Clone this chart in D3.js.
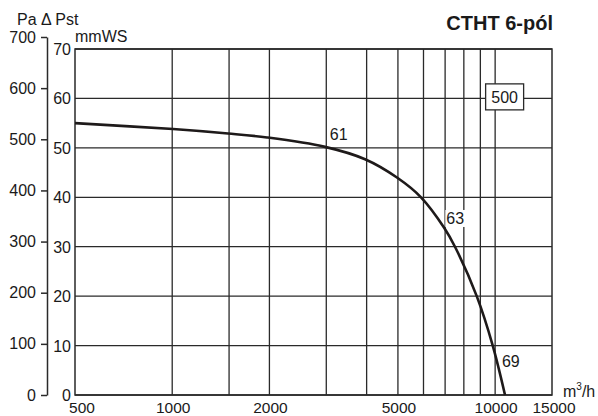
<!DOCTYPE html>
<html><head><meta charset="utf-8">
<script src="https://cdn.jsdelivr.net/npm/d3@7"></script>
<style>
body{margin:0;background:#fff;}
text{font-family:"Liberation Sans",Arial,Helvetica,sans-serif;fill:#1a1a1a;}
</style></head>
<body><svg id="c" width="598" height="416"></svg>
<script>
// Data
const flow = [500, 1006, 1489, 1966, 2973, 3955, 4966, 5895, 6960, 7510, 8770, 9830, 10730];
const pressure = [55.0, 53.8, 52.9, 52.1, 50.2, 47.7, 44.0, 40.0, 33.8, 30.0, 20.0, 10.0, 0];
const xGrid = [1000, 1500, 2000, 3000, 4000, 5000, 6000, 7000, 8000, 9000, 10000];
const xTickLabels = [500, 1000, 2000, 5000, 10000, 15000];
const mmTicks = [0, 10, 20, 30, 40, 50, 60, 70];
const paTicks = [0, 100, 200, 300, 400, 500, 600, 700];
const pointLabels = [
  {text: "61", flow: 3077, p: 51.6},
  {text: "63", flow: 7062, p: 34.6},
  {text: "69", flow: 10500, p: 5.7}
];
const sizeLabel = {text: "500", flow: 10700, p: 59.1};
const title = "CTHT 6-pól";

const svg = d3.select("#c");
const L = 75, R = 552, T = 49, B = 395;
const x = d3.scaleLog().domain([500, 15000]).range([L, R]);
const y = d3.scaleLinear().domain([0, 70]).range([B, T]);
const yPa = d3.scaleLinear().domain([0, 700]).range([B, 37]);
const ink = "#2a2a2a";

// grid
const g = svg.append("g");
g.selectAll(".vg").data(xGrid).join("line")
  .attr("x1", d => x(d)).attr("x2", d => x(d)).attr("y1", T).attr("y2", B)
  .attr("stroke", ink).attr("stroke-width", 1.3);
g.selectAll(".hg").data(mmTicks).join("line")
  .attr("x1", L).attr("x2", R).attr("y1", d => y(d)).attr("y2", d => y(d))
  .attr("stroke", ink).attr("stroke-width", 1.3);
g.append("rect").attr("x", L).attr("y", T).attr("width", R - L).attr("height", B - T)
  .attr("fill", "none").attr("stroke", ink).attr("stroke-width", 1.5);

// mmWS labels
svg.selectAll(".mm").data(mmTicks).join("text")
  .attr("x", 71).attr("y", d => y(d) + 6).attr("text-anchor", "end")
  .attr("font-size", 16).text(d => d);

// Pa axis
const pa = svg.append("g").attr("transform", "translate(47,0)")
  .call(d3.axisLeft(yPa).tickValues(paTicks).tickSize(6).tickPadding(5).tickSizeOuter(0));
pa.select(".domain").attr("stroke", ink).attr("stroke-width", 1.5);
pa.selectAll(".tick line").attr("stroke", ink).attr("stroke-width", 1.5);
pa.selectAll(".tick text").attr("font-size", 16).attr("font-family", "Liberation Sans, Arial, sans-serif").attr("fill", "#1a1a1a");

// x labels
svg.selectAll(".xl").data(xTickLabels).join("text")
  .attr("x", d => x(d) + (d === 500 ? 7 : (d === 15000 ? 2 : 1))).attr("y", 412.5)
  .attr("text-anchor", "middle").attr("font-size", 15.5).text(d => d);

// curve
const line = d3.line().x((d, i) => x(flow[i])).y((d, i) => y(pressure[i])).curve(d3.curveCatmullRom.alpha(0.5));
svg.append("path").datum(flow).attr("d", line)
  .attr("fill", "none").attr("stroke", "#1e1a1a").attr("stroke-width", 2.6);

// point labels
pointLabels.forEach(l => {
  const t = svg.append("text").attr("x", x(l.flow)).attr("y", y(l.p))
    .attr("font-size", 16).text(l.text);
  if (l.text === "63") {
    const b = t.node().getBBox();
    svg.insert("rect", "text").attr("x", b.x - 1).attr("y", b.y).attr("width", b.width + 2).attr("height", b.height).attr("fill", "#fff");
  }
});

// size box
const sx = x(sizeLabel.flow), sy = y(sizeLabel.p);
svg.append("rect").attr("x", sx - 19).attr("y", sy - 19).attr("width", 38).attr("height", 26)
  .attr("fill", "#fff").attr("stroke", ink).attr("stroke-width", 1.3);
svg.append("text").attr("x", sx).attr("y", sy).attr("text-anchor", "middle").attr("font-size", 16).text(sizeLabel.text);

// titles
svg.append("text").attr("x", 553).attr("y", 30).attr("text-anchor", "end")
  .attr("font-size", 20).attr("font-weight", "bold").text(title);
svg.append("text").attr("x", 17).attr("y", 25).attr("font-size", 16).text("Pa \u0394 Pst");
svg.append("text").attr("x", 75).attr("y", 42).attr("font-size", 16).text("mmWS");
const u = svg.append("text").attr("x", 563).attr("y", 397).attr("font-size", 16);
u.append("tspan").text("m");
u.append("tspan").attr("font-size", 10).attr("dy", -7).text("3");
u.append("tspan").attr("dy", 7).text("/h");
</script></body></html>
